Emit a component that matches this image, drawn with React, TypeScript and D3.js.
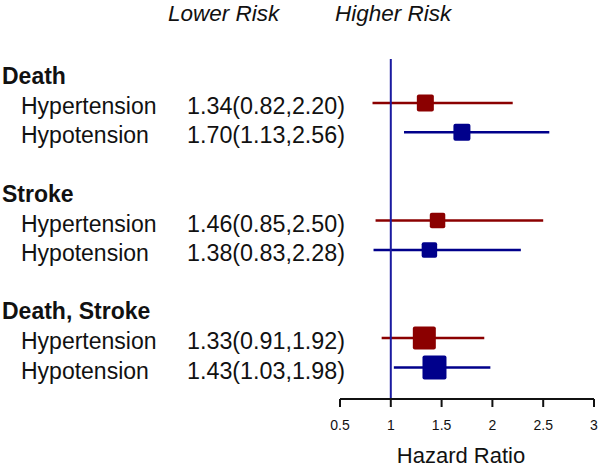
import React from "react";
import * as d3 from "d3";

const groups = ["Death", "Stroke", "Death, Stroke"];
const subgroups = ["Hypertension", "Hypotension"];
const hazardRatio = [1.34, 1.7, 1.46, 1.38, 1.33, 1.43];
const lowerCI = [0.82, 1.13, 0.85, 0.83, 0.91, 1.03];
const upperCI = [2.2, 2.56, 2.5, 2.28, 1.92, 1.98];
const boxWeight = [17, 17, 15.5, 15.5, 23, 24];
const xTicks = [0.5, 1, 1.5, 2, 2.5, 3];

const W = 600;
const H = 469;
const RED = "#8b0000";
const BLUE = "#00008b";
const FONT = "Liberation Sans, Arial, sans-serif";

export default function App() {
  const x = d3.scaleLinear().domain([0.5, 3]).range([340, 594]);
  const row = d3.scaleLinear().domain([0, 10]).range([73.5, 367.5]);
  const fmt = d3.format(".2f");
  const axisY = 399;

  const rows: { type: string; label: string; idx: number; r: number }[] = [];
  groups.forEach((g, gi) => {
    rows.push({ type: "h", label: g, idx: -1, r: gi * 4 });
    subgroups.forEach((s, si) => {
      rows.push({ type: "s", label: s, idx: gi * 2 + si, r: gi * 4 + 1 + si });
    });
  });

  return (
    <svg
      width={W}
      height={H}
      style={{ position: "absolute", left: 0, top: 0, background: "#fff" }}
      fontFamily={FONT}
    >
      <text x={168} y={21} fontSize={22.5} fontStyle="italic" fill="#111">
        Lower Risk
      </text>
      <text x={335} y={21} fontSize={22.5} fontStyle="italic" fill="#111">
        Higher Risk
      </text>

      {rows.map((d, i) => {
        const cy = row(d.r);
        if (d.type === "h") {
          return (
            <text key={i} x={2} y={cy + 10.5} fontSize={23} fontWeight="bold" fill="#111">
              {d.label}
            </text>
          );
        }
        const k = d.idx;
        const color = k % 2 === 0 ? RED : BLUE;
        const s = boxWeight[k];
        return (
          <g key={i}>
            <text x={21} y={cy + 11} fontSize={23} fill="#111">
              {d.label}
            </text>
            <text x={187} y={cy + 11} fontSize={23.3} fill="#111">
              {`${fmt(hazardRatio[k])}(${fmt(lowerCI[k])},${fmt(upperCI[k])})`}
            </text>
            <line
              x1={x(lowerCI[k])}
              x2={x(upperCI[k])}
              y1={cy}
              y2={cy}
              stroke={color}
              strokeWidth={2.5}
            />
            <rect
              x={x(hazardRatio[k]) - s / 2}
              y={cy - s / 2}
              width={s}
              height={s}
              rx={2}
              fill={color}
            />
          </g>
        );
      })}

      <line x1={x(1)} x2={x(1)} y1={59} y2={axisY} stroke="#1a1aa0" strokeWidth={2} />

      <line x1={x(0.5)} x2={x(3)} y1={axisY} y2={axisY} stroke="#111" strokeWidth={2} />
      {xTicks.map((t) => (
        <g key={t}>
          <line x1={x(t)} x2={x(t)} y1={axisY} y2={axisY + 8} stroke="#111" strokeWidth={2} />
          <text x={x(t)} y={430} fontSize={14} textAnchor="middle" fill="#111">
            {String(t)}
          </text>
        </g>
      ))}
      <text x={461} y={463} fontSize={22} textAnchor="middle" fill="#111">
        Hazard Ratio
      </text>
    </svg>
  );
}
